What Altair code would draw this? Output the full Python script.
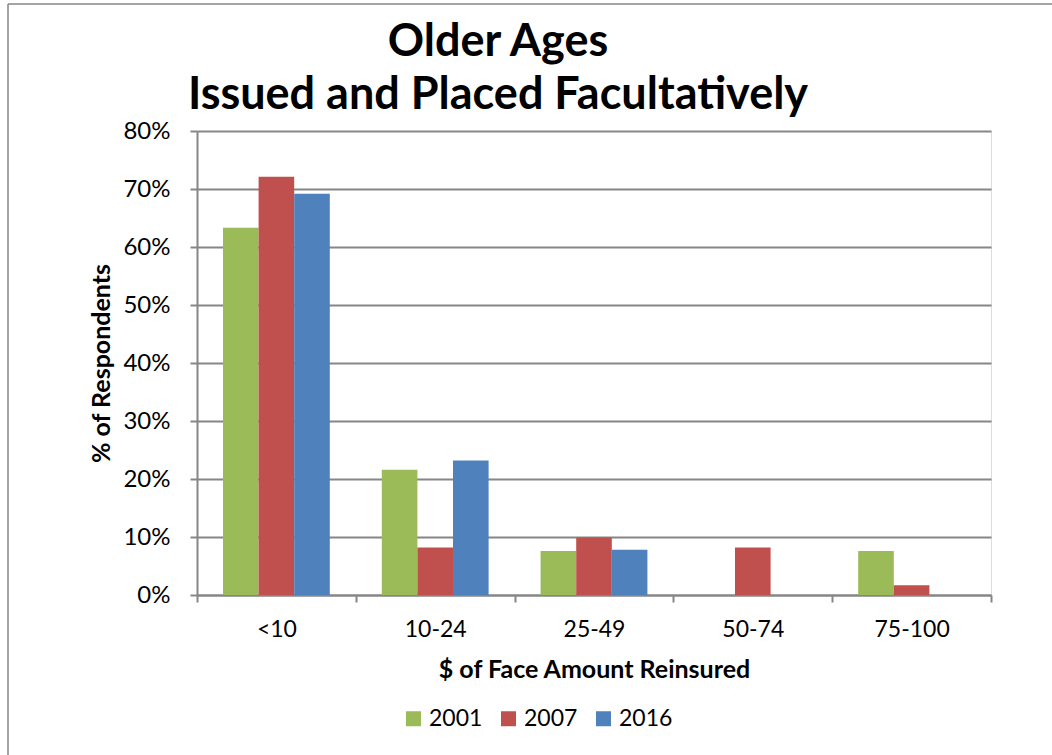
import altair as alt
import pandas as pd

categories = ["<10", "10-24", "25-49", "50-74", "75-100"]
years = ["2001", "2007", "2016"]
v2001 = [0.633, 0.216, 0.076, 0.0, 0.076]
v2007 = [0.721, 0.082, 0.099, 0.082, 0.017]
v2016 = [0.692, 0.232, 0.078, 0.0, 0.0]
colors = ["#9BBB59", "#C0504D", "#4F81BD"]

rows = []
for yr, vals in zip(years, [v2001, v2007, v2016]):
    for c, v in zip(categories, vals):
        rows.append({"category": c, "year": yr, "value": v})
df = pd.DataFrame(rows)

FONT = "Lato"
GRID = "#868686"

bars = alt.Chart(df).mark_bar().encode(
    x=alt.X("category:N", sort=categories,
            scale=alt.Scale(paddingInner=0, paddingOuter=0),
            axis=alt.Axis(title="$ of Face Amount Reinsured", labelAngle=0,
                          tickBand="extent", tickSize=7, tickColor=GRID, tickWidth=2,
                          domainColor=GRID, domainWidth=2,
                          labelFont=FONT, labelFontSize=23, labelColor="black",
                          labelPadding=16,
                          titleFont=FONT, titleFontSize=25, titleFontWeight="bold",
                          titleColor="black", titlePadding=16)),
    xOffset=alt.XOffset("year:N", sort=years, scale=alt.Scale(paddingInner=0, paddingOuter=0.73)),
    y=alt.Y("value:Q", scale=alt.Scale(domain=[0, 0.8], nice=False),
            axis=alt.Axis(title="% of Respondents", format=".0%", values=[0, 0.1, 0.2, 0.3, 0.4, 0.5, 0.6, 0.7, 0.8],
                          grid=True, gridColor=GRID, gridWidth=2,
                          tickSize=7, tickColor=GRID, tickWidth=2,
                          domainColor=GRID, domainWidth=2,
                          labelFont=FONT, labelFontSize=24, labelColor="black",
                          labelPadding=20,
                          titleFont=FONT, titleFontSize=25, titleFontWeight="bold",
                          titleColor="black", titlePadding=8)),
    color=alt.Color("year:N", sort=years,
                    scale=alt.Scale(domain=years, range=colors),
                    legend=alt.Legend(title=None, orient="none", direction="horizontal",
                                      legendX=205, legendY=576,
                                      symbolType="square", symbolSize=225,
                                      symbolStrokeWidth=0, symbolOpacity=1,
                                      labelFont=FONT, labelFontSize=23, labelColor="black",
                                      labelOffset=4, columnPadding=14)),
)

frame_v = alt.Chart(alt.Data(values=[{}])).mark_rule(color=GRID, strokeWidth=1.5).encode(
    x=alt.value(-189), y=alt.value(-127), y2=alt.value(640))
frame_h = alt.Chart(alt.Data(values=[{}])).mark_rule(color=GRID, strokeWidth=1.5).encode(
    x=alt.value(-189), x2=alt.value(870), y=alt.value(-127))

chart = alt.layer(bars, frame_v, frame_h).properties(
    width=794, height=464,
    autosize=alt.AutoSizeParams(type="none"),
    padding={"left": 197, "top": 131, "right": 61, "bottom": 160},
    title=alt.TitleParams(["Older Ages", "Issued and Placed Facultatively"],
                          font=FONT, fontSize=45, fontWeight="bold", color="black",
                          anchor="middle", dx=-96, dy=165, baseline="alphabetic",
                          lineHeight=53, offset=14),
).configure_view(stroke=None).configure(background="white")

chart.save("out.html", embed_options={"renderer": "svg", "actions": False})
